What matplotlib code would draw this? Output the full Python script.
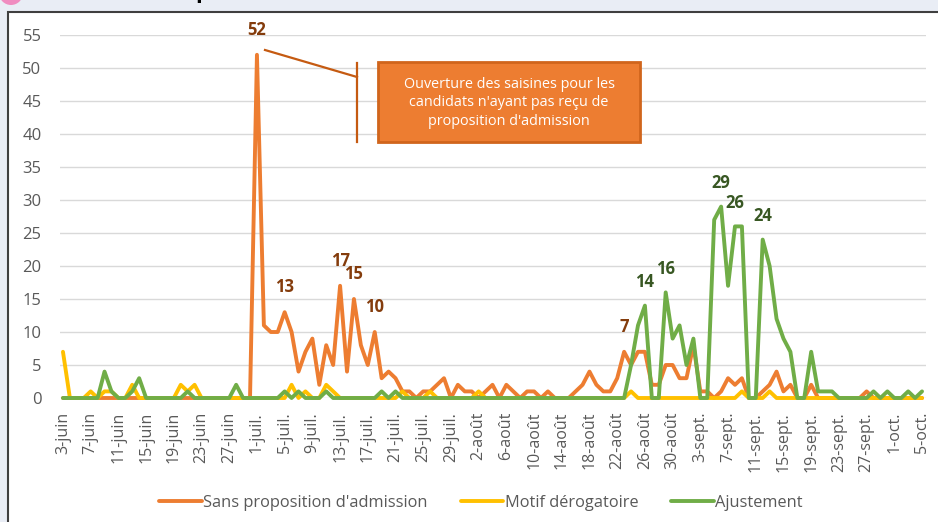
import matplotlib
matplotlib.use("Agg")
import matplotlib.pyplot as plt
from matplotlib.patches import Rectangle, Ellipse
import numpy as np

# saisines par jour, du 3 juin au 5 octobre
sans_proposition = [
    0, 0, 0, 0, 0, 0, 0, 0, 0, 0, 0, 0, 0, 0, 0, 0, 0, 0, 0, 0, 0, 0, 0, 0, 0, 0, 0, 0,
    52, 11, 10, 10, 13, 10, 4, 7, 9, 2, 8, 5, 17, 4, 15, 8, 5, 10, 3, 4, 3, 1, 1, 0, 1, 1, 2, 3, 0, 2, 1,
    1, 0, 1, 2, 0, 2, 1, 0, 1, 1, 0, 1, 0, 0, 0, 1, 2, 4, 2, 1, 1, 3, 7, 5, 7, 7, 2, 2, 5, 5, 3, 3,
    8, 1, 1, 0, 1, 3, 2, 3, 0, 0, 1, 2, 4, 1, 2, 0, 0, 2, 0, 0, 0, 0, 0, 0, 0, 1, 0, 0, 0,
    0, 0, 0, 0, 0,
]
motif_derogatoire = [
    7, 0, 0, 0, 1, 0, 1, 1, 0, 0, 2, 0, 0, 0, 0, 0, 0, 2, 1, 2, 0, 0, 0, 0, 0, 0, 0, 0,
    0, 0, 0, 0, 0, 2, 0, 1, 0, 0, 2, 1, 0, 0, 0, 0, 0, 0, 0, 0, 0, 1, 0, 0, 0, 1, 0, 0, 0, 0, 0,
    0, 1, 0, 0, 0, 0, 0, 0, 0, 0, 0, 0, 0, 0, 0, 0, 0, 0, 0, 0, 0, 0, 0, 1, 0, 0, 0, 0, 0, 0, 0, 0,
    0, 0, 0, 0, 0, 0, 0, 1, 0, 0, 0, 1, 0, 0, 0, 0, 0, 0, 0, 0, 0, 0, 0, 0, 0, 0, 0, 0, 0,
    0, 0, 0, 0, 0,
]
ajustement = [
    0, 0, 0, 0, 0, 0, 4, 1, 0, 0, 1, 3, 0, 0, 0, 0, 0, 0, 1, 0, 0, 0, 0, 0, 0, 2, 0, 0,
    0, 0, 0, 0, 1, 0, 1, 0, 0, 0, 1, 0, 0, 0, 0, 0, 0, 0, 1, 0, 1, 0, 0, 0, 0, 0, 0, 0, 0, 0, 0,
    0, 0, 0, 0, 0, 0, 0, 0, 0, 0, 0, 0, 0, 0, 0, 0, 0, 0, 0, 0, 0, 0, 0, 5, 11, 14, 0, 0, 16, 9, 11, 5,
    9, 0, 0, 27, 29, 17, 26, 26, 0, 0, 24, 20, 12, 9, 7, 0, 0, 7, 1, 1, 1, 0, 0, 0, 0, 0, 1, 0, 1,
    0, 0, 1, 0, 1,
]

tick_labels = [
    "3-juin", "7-juin", "11-juin", "15-juin", "19-juin", "23-juin", "27-juin",
    "1-juil.", "5-juil.", "9-juil.", "13-juil.", "17-juil.", "21-juil.", "25-juil.", "29-juil.",
    "2-août", "6-août", "10-août", "14-août", "18-août", "22-août", "26-août", "30-août",
    "3-sept.", "7-sept.", "11-sept.", "15-sept.", "19-sept.", "23-sept.", "27-sept.",
    "1-oct.", "5-oct.",
]

# jours dont la valeur est affichée
labels_sans = [28, 32, 40, 42, 45, 81]
labels_ajust = [84, 87, 95, 97, 101]

W, H = 938, 522
ORANGE = "#ED7D31"
YELLOW = "#FFC000"
GREEN = "#70AD47"
GREY_TXT = "#595959"


def fx(x):
    return x / W


def fy(y):
    return 1 - y / H


def main():
    plt.rcParams['font.family'] = ['Open Sans', 'DejaVu Sans']
    fig = plt.figure(figsize=(W / 100, H / 100), dpi=100)
    fig.patch.set_facecolor("#E9EDF5")

    # cadre blanc du graphique
    fig.add_artist(Rectangle((fx(8), fy(530)), fx(940), 518 / H, transform=fig.transFigure,
                             facecolor="white", edgecolor="#3F3F3F", linewidth=1.5, zorder=0))
    fig.add_artist(Ellipse((fx(11), fy(-7)), 24 / W, 24 / H, transform=fig.transFigure,
                           facecolor="#F08CC0", edgecolor="none", zorder=1))
    fig.text(fx(195), fy(-2), "p", fontsize=16, fontweight="bold", va="baseline", color="black")

    ax = fig.add_axes([fx(59.5), fy(398), 866 / W, 363 / H])
    ax.set_facecolor("none")

    days = np.arange(len(sans_proposition))
    series = [
        (sans_proposition, ORANGE, "Sans proposition d'admission"),
        (motif_derogatoire, YELLOW, "Motif dérogatoire"),
        (ajustement, GREEN, "Ajustement"),
    ]
    for values, color, name in series:
        ax.plot(days, values, color=color, linewidth=2.8, label=name,
                solid_joinstyle="round", solid_capstyle="round", clip_on=False)

    for i in labels_sans:
        ax.annotate(str(sans_proposition[i]), (days[i], sans_proposition[i]),
                    xytext=(0, 18), textcoords="offset points", ha="center", va="center",
                    fontsize=12, fontweight="bold", color="#843C0C")
    for i in labels_ajust:
        ax.annotate(str(ajustement[i]), (days[i], ajustement[i]),
                    xytext=(0, 17), textcoords="offset points", ha="center", va="center",
                    fontsize=12, fontweight="bold", color="#385723")

    ax.set_xlim(-0.5, len(days) - 0.5)
    ax.set_ylim(0, 55)
    ax.set_yticks(np.arange(0, 56, 5))
    ax.set_xticks(days[::4])
    ax.set_xticklabels(tick_labels, rotation=90)
    ax.tick_params(axis="both", length=0, labelsize=11.5, labelcolor=GREY_TXT)
    ax.tick_params(axis="y", labelsize=12, pad=13)
    ax.tick_params(axis="x", pad=10)
    ax.grid(axis="y", color="#D9D9D9", linewidth=1)
    ax.set_axisbelow(True)
    for spine in ax.spines.values():
        spine.set_visible(False)

    # bulle d'annotation
    fig.add_artist(Rectangle((fx(378), fy(142)), 262 / W, 80 / H, transform=fig.transFigure,
                             facecolor=ORANGE, edgecolor="#D0651C", linewidth=2, zorder=5))
    fig.text(fx(509), fy(103), "Ouverture des saisines pour les\ncandidats n'ayant pas reçu de\nproposition d'admission",
             ha="center", va="center", fontsize=10.4, color="white", linespacing=1.35, zorder=6)
    fig.add_artist(plt.Line2D([fx(265), fx(357)], [fy(50), fy(77)], transform=fig.transFigure,
                              color="#C55A11", linewidth=1.6, zorder=5))
    fig.add_artist(plt.Line2D([fx(357), fx(357)], [fy(63), fy(142)], transform=fig.transFigure,
                              color="#C55A11", linewidth=1.6, zorder=5))

    leg = fig.legend(loc="center", bbox_to_anchor=(fx(481), fy(503)), ncol=3, frameon=False,
                     fontsize=11.8, handlelength=2.6, handletextpad=0.1, columnspacing=2.0)
    for text in leg.get_texts():
        text.set_color(GREY_TXT)

    fig.savefig("out.png", dpi=100, facecolor=fig.get_facecolor())


if __name__ == "__main__":
    main()
